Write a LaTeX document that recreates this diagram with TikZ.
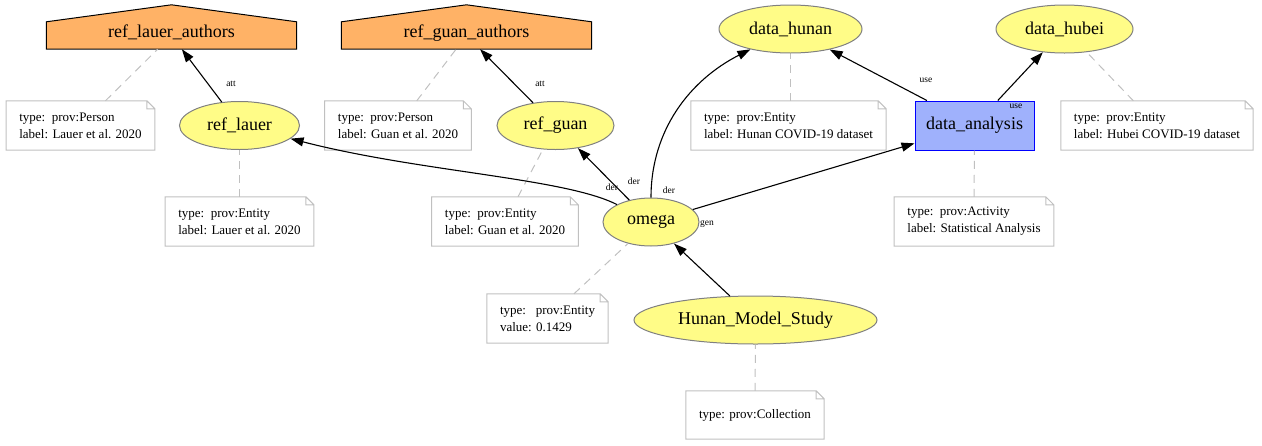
\documentclass[tikz,border=0pt]{standalone}
\usepackage{fontspec}
\setmainfont{Liberation Serif}
\usepackage{xcolor}
\usetikzlibrary{shapes.geometric,arrows.meta}
\definecolor{entfill}{HTML}{FFFC87}
\definecolor{agfill}{HTML}{FFB266}
\definecolor{actfill}{HTML}{9FB1FC}
\definecolor{notegray}{HTML}{C0C0C0}

\begin{document}
\begin{tikzpicture}[x=1pt,y=-1pt,
    >={Triangle[length=13pt,width=9pt]},
    entity/.style={ellipse,draw=gray,fill=entfill,line width=1pt,inner sep=0pt,
        minimum height=48pt,font=\fontsize{18}{20}\selectfont},
    agent/.style={rectangle,fill=agfill,inner sep=0pt,minimum width=250pt,
        text height=15pt,text depth=12pt,font=\fontsize{18}{20}\selectfont},
    activity/.style={rectangle,draw=blue,fill=actfill,line width=1pt,inner sep=0pt,
        minimum width=119pt,minimum height=49pt,font=\fontsize{18}{20}\selectfont},
    note/.style={rectangle,align=left,inner xsep=13pt,inner ysep=0pt,
        minimum height=49pt,font=\fontsize{13}{17}\selectfont},
    noteline/.style={draw=notegray,line width=1pt},
    link/.style={draw=notegray,dashed,dash pattern=on 8pt off 6pt,line width=1pt},
    rel/.style={->,line width=1.1pt},
    lbl/.style={inner sep=0pt,font=\fontsize{9.5}{11}\selectfont}]
    \useasboundingbox (0,0) rectangle (1262,445);

    % agents
    \node[agent] (lauerA) at (171.5,35.5) {ref\_lauer\_authors};
    \node[agent] (guanA) at (466.5,35.5) {ref\_guan\_authors};
    \foreach \a in {lauerA,guanA}{
        \fill[agfill] (\a.north west) -- ([yshift=17pt]\a.north) -- (\a.north east) -- cycle;
        \draw[line width=1pt] (\a.south west) -- (\a.north west) -- ([yshift=17pt]\a.north)
            -- (\a.north east) -- (\a.south east) -- cycle;
    }

    % entities and activity
    \node[entity,minimum width=143pt] (hunan) at (790.5,29) {data\_hunan};
    \node[entity,minimum width=137pt] (hubei) at (1064.5,29) {data\_hubei};
    \node[entity,minimum width=120pt] (lauer) at (239.5,125.5) {ref\_lauer};
    \node[entity,minimum width=117pt] (guan) at (555.5,125.5) {ref\_guan};
    \node[entity,minimum width=96pt] (omega) at (651,222) {omega};
    \node[entity,minimum width=243pt] (study) at (755.5,320) {Hunan\_Model\_Study};
    \node[activity] (analysis) at (974.5,125.5) {data\_analysis};

    % notes
    \node[note] (nLauerA) at (80.5,125.5) {type:\ \ prov:Person\\label: Lauer et al. 2020};
    \node[note] (nLauer) at (239.5,221.5) {type:\ \ prov:Entity\\label: Lauer et al. 2020};
    \node[note] (nGuanA) at (398,125.5) {type:\ \ prov:Person\\label: Guan et al. 2020};
    \node[note] (nGuan) at (505,221.5) {type:\ \ prov:Entity\\label: Guan et al. 2020};
    \node[note] (nHunan) at (788.5,125.5) {type:\ \ prov:Entity\\label: Hunan COVID-19 dataset};
    \node[note] (nHubei) at (1157,125.5) {type:\ \ prov:Entity\\label: Hubei COVID-19 dataset};
    \node[note] (nAnalysis) at (974,221.5) {type:\ \ prov:Activity\\label: Statistical Analysis};
    \node[note] (nOmega) at (547.5,318.5) {type:\ \ \ prov:Entity\\value: 0.1429};
    \node[note,minimum height=48pt] (nStudy) at (755,415) {type: prov:Collection};
    \foreach \n in {nLauerA,nLauer,nGuanA,nGuan,nHunan,nHubei,nAnalysis,nOmega,nStudy}
        \draw[noteline] (\n.south west) -- (\n.north west) -- ([xshift=-8pt]\n.north east)
            -- ([yshift=-8pt]\n.north east) -- (\n.south east) -- cycle
            ([xshift=-8pt]\n.north east) |- ([yshift=-8pt]\n.north east);

    % note links
    \draw[link] (nLauerA) -- (lauerA);
    \draw[link] (nLauer) -- (lauer);
    \draw[link] (nGuanA) -- (guanA);
    \draw[link] (nGuan) -- (guan);
    \draw[link] (nHunan.north -| hunan.south) -- (hunan);
    \draw[link] (nHubei) -- (hubei);
    \draw[link] (nAnalysis) -- (analysis);
    \draw[link] (nOmega) -- (omega);
    \draw[link] (nStudy) -- (study);

    % relations
    \draw[rel] (lauer) -- (lauerA);
    \draw[rel] (guan) -- (guanA);
    \draw[rel] (omega) .. controls (565,178) and (420,172) .. (lauer);
    \draw[rel] (omega) -- (guan);
    \draw[rel] (omega) .. controls (651,130) and (690,80) .. (hunan);
    \draw[rel] (omega) -- (analysis);
    \draw[rel] (analysis) -- (hunan);
    \draw[rel] (analysis) -- (hubei);
    \draw[rel] (study) -- (omega);

    % relation labels
    \node[lbl] (attLauer) at (231,84) {att};
    \node[lbl] (attGuan) at (540,84) {att};
    \node[lbl] (derLauer) at (612,187) {der};
    \node[lbl] (derGuan) at (634,181) {der};
    \node[lbl] (derHunan) at (669,190) {der};
    \node[lbl] (genAnalysis) at (707,224) {gen};
    \node[lbl] (useHunan) at (926,80) {use};
    \node[lbl] (useHubei) at (1016,106) {use};
\end{tikzpicture}
\end{document}
